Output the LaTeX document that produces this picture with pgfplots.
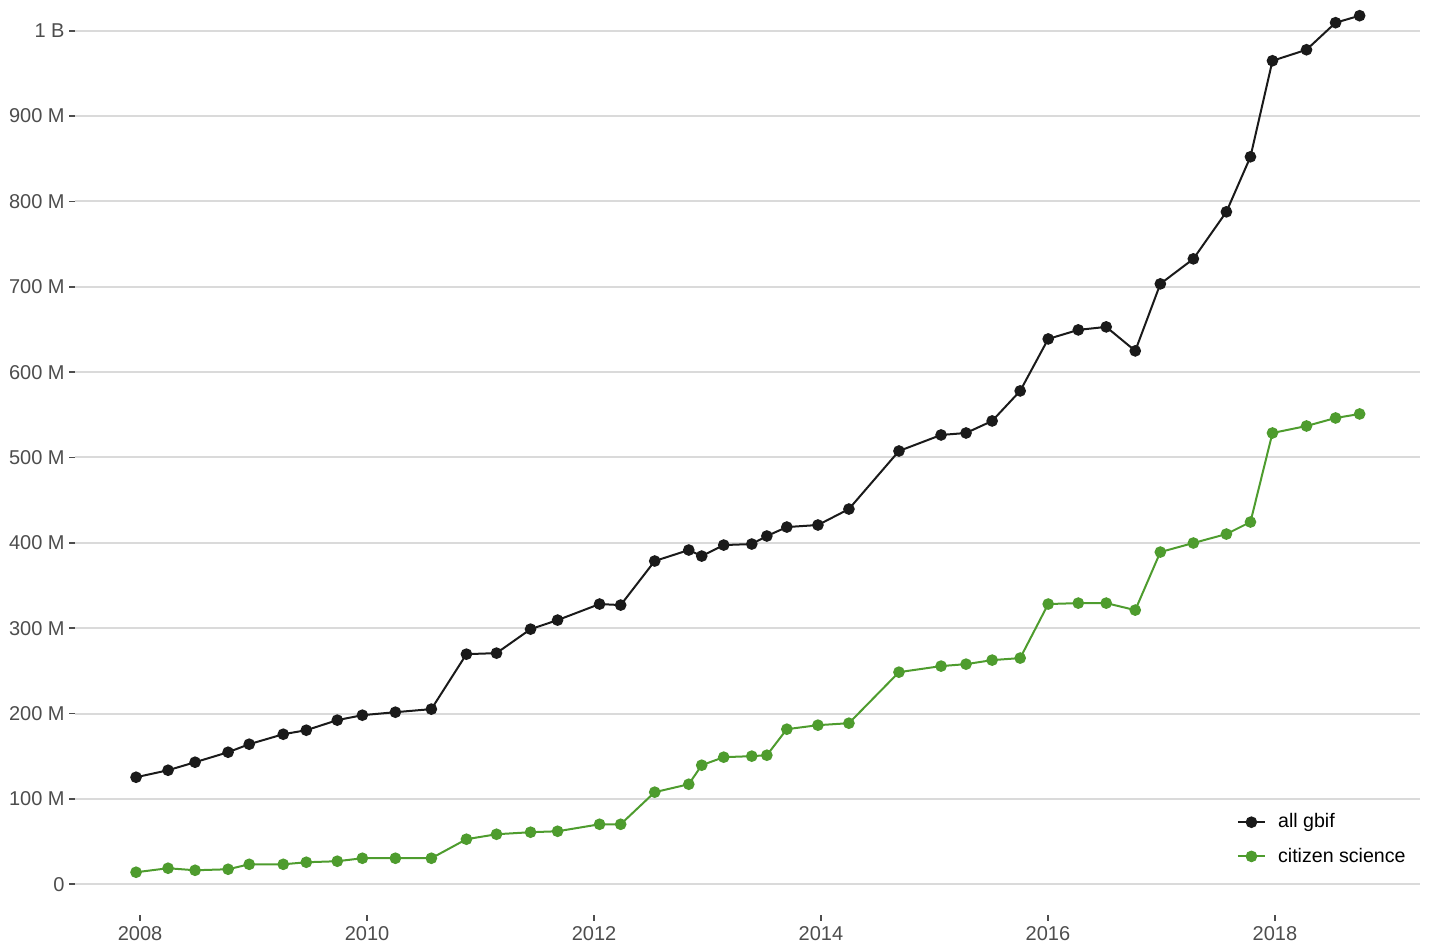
\documentclass[border=0pt]{standalone}
\usepackage{fontspec}
\setmainfont{Liberation Sans}
\usepackage{pgfplots}
\usepackage{pgfplotstable}
\pgfplotsset{compat=1.18}
\definecolor{gbifgreen}{RGB}{78,156,46}
\definecolor{gbifblack}{RGB}{26,26,26}
\definecolor{txtgray}{RGB}{77,77,77}
\definecolor{gridgray}{RGB}{218,218,218}

\pgfplotstableread{
x y
2007.965 125.4
2008.247 133.6
2008.485 143.0
2008.776 154.7
2008.962 164.1
2009.262 175.8
2009.465 180.5
2009.738 192.3
2009.959 198.1
2010.250 201.6
2010.567 205.2
2010.876 269.6
2011.141 270.8
2011.441 298.9
2011.679 309.5
2012.049 328.3
2012.235 327.1
2012.535 378.7
2012.835 391.6
2012.949 384.5
2013.143 397.4
2013.390 398.6
2013.523 408.0
2013.699 418.5
2013.973 420.9
2014.246 439.6
2014.687 507.6
2015.058 526.4
2015.278 528.7
2015.508 542.8
2015.755 578.0
2016.002 638.9
2016.267 649.5
2016.513 653.0
2016.769 624.9
2016.990 703.4
2017.281 732.7
2017.572 787.8
2017.784 852.3
2017.978 964.8
2018.278 977.7
2018.534 1009.4
2018.746 1017.6
}\allgbif

\pgfplotstableread{
x y
2007.965 14.1
2008.247 18.8
2008.485 16.4
2008.776 17.6
2008.962 23.4
2009.262 23.4
2009.465 25.8
2009.738 27.0
2009.959 30.5
2010.250 30.5
2010.567 30.5
2010.876 52.8
2011.141 58.6
2011.441 61.0
2011.679 62.1
2012.049 70.3
2012.235 70.3
2012.535 107.9
2012.835 117.2
2012.949 139.5
2013.143 148.9
2013.390 150.1
2013.523 151.2
2013.699 181.7
2013.973 186.4
2014.246 188.7
2014.687 248.5
2015.058 255.6
2015.278 257.9
2015.508 262.6
2015.755 265.0
2016.002 328.3
2016.267 329.4
2016.513 329.4
2016.769 321.2
2016.990 389.2
2017.281 399.8
2017.572 410.3
2017.784 424.4
2017.978 528.7
2018.278 536.9
2018.534 546.3
2018.746 551.0
}\citizen

\begin{document}
\begin{tikzpicture}[trim left=-37.5pt, trim right=681.5pt]
\path (0,-16pt) (0,457.5pt);
\begin{axis}[
  scale only axis,
  width=672.5pt, height=457.5pt,
  xmin=2007.427, xmax=2019.278,
  ymin=-36, ymax=1036,
  axis line style={draw=none},
  ymajorgrids,
  grid style={gridgray, line width=1pt},
  tick style={txtgray, line width=0.9pt},
  tick align=outside,
  major tick length=2.8pt,
  xtick pos=bottom, ytick pos=left,
  xtick={2008,2010,2012,2014,2016,2018},
  xticklabels={2008,2010,2012,2014,2016,2018},
  ytick={0,100,200,300,400,500,600,700,800,900,1000},
  yticklabels={0,100 M,200 M,300 M,400 M,500 M,600 M,700 M,800 M,900 M,1 B},
  ticklabel style={font=\fontsize{10}{12}\selectfont, text=txtgray},
  yticklabel style={inner sep=2.2pt},
  xticklabel style={inner sep=1pt, yshift=-2pt},
  legend style={draw=none, fill=none, at={(0.997,0.120)}, anchor=north east,
    font=\fontsize{9.8}{11.8}\selectfont, text=black, row sep=4.5pt,
    /tikz/every odd column/.append style={column sep=4pt}},
  legend cell align=left,
  legend image code/.code={\draw[mark repeat=2,mark phase=2] plot coordinates {(0cm,0cm)(0.24cm,0cm)(0.48cm,0cm)};},
]
\addplot[gbifblack, line width=1pt, mark=*, mark size=2.4pt, mark options={solid, fill=gbifblack}] table[x=x,y=y] {\allgbif};
\addlegendentry{all gbif}
\addplot[gbifgreen, line width=1pt, mark=*, mark size=2.4pt, mark options={solid, fill=gbifgreen}] table[x=x,y=y] {\citizen};
\addlegendentry{citizen science}
\end{axis}
\end{tikzpicture}
\end{document}
